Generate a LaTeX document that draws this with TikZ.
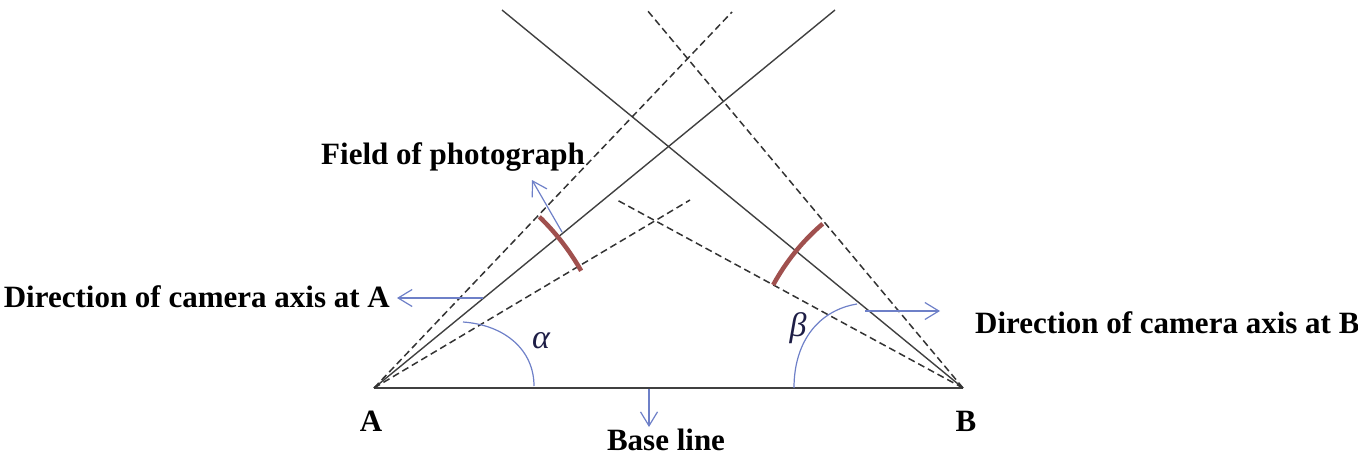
\documentclass[tikz,border=0pt]{standalone}
\usepackage{fontspec}
\setmainfont{Liberation Serif}
\usetikzlibrary{arrows.meta}
\definecolor{axblue}{RGB}{110,128,200}
\definecolor{arcred}{RGB}{160,80,78}
\definecolor{greekcol}{RGB}{30,30,70}
\tikzset{
  solidline/.style={line width=1.4pt, draw=black!75},
  dashline/.style={line width=1.5pt, draw=black!80, dash pattern=on 7pt off 4pt},
  bluearrow/.style={line width=1.2pt, draw=axblue, -{Straight Barb[length=14pt,width=17pt,line width=1.2pt]}},
  bluearc/.style={line width=1.2pt, draw=axblue},
  redarc/.style={line width=4.5pt, draw=arcred},
  lbl/.style={font=\fontsize{31}{36}\selectfont\bfseries, inner sep=0pt},
  greek/.style={font=\fontsize{34}{38}\selectfont\itshape, inner sep=0pt, text=greekcol}
}
\begin{document}
\begin{tikzpicture}[x=1pt,y=-1pt]
\useasboundingbox (0,0) rectangle (1358,455);
% base points
\coordinate (A) at (374,388);
\coordinate (B) at (963,388);
\coordinate (As) at (835,10);
\coordinate (Bs) at (502,10);
\coordinate (Adu) at (732,12);
\coordinate (Adl) at (690,200);
\coordinate (Bdu) at (647,10);
\coordinate (Bdl) at (617,200);
% lines
\draw[solidline, line width=1.8pt] (A) -- (B);
\draw[solidline] (A) -- (As);
\draw[solidline] (B) -- (Bs);
\draw[dashline] (A) -- (Adu);
\draw[dashline] (A) -- (Adl);
\draw[dashline] (B) -- (Bdu);
\draw[dashline] (B) -- (Bdl);
% red arcs (field of photograph)
\draw[redarc] ([shift={(46:238pt)}]A) arc[start angle=46, end angle=29.5, radius=238pt];
\draw[redarc] ([shift={(130.5:216pt)}]B) arc[start angle=130.5, end angle=151.5, radius=216pt];
% blue angle arcs
\coordinate (a1) at (463,322);
\coordinate (a2) at (534,386);
\draw[bluearc] (a1) .. controls (505,325) and (534,350) .. (a2);
\coordinate (b1) at (857,304);
\coordinate (b2) at (794,388);
\draw[bluearc] (b2) .. controls (794,340) and (820,310) .. (b1);
% labels
\node[lbl, anchor=center] (fop) at (453,157) {Field of photograph};
\node[lbl, anchor=east] (dirA) at (390,297) {Direction of camera axis at A};
\node[lbl, anchor=west] (dirB) at (975,323) {Direction of camera axis at B};
\node[lbl, anchor=base] (base) at (666,450) {Base line};
\node[lbl] (labA) at (371,421) {A};
\node[lbl] (labB) at (966,421) {B};
\node[greek] (alpha) at (541,341) {α};
\node[greek] (beta) at (798,328) {β};
% blue arrows
\coordinate (f0) at (562,232);
\coordinate (f1) at (532,180);
\draw[bluearrow] (f0) -- (f1);
\coordinate (dA0) at (483,298);
\coordinate (dA1) at (397,298);
\draw[bluearrow] (dA0) -- (dA1);
\coordinate (dB0) at (865,311);
\coordinate (dB1) at (940,311);
\draw[bluearrow] (dB0) -- (dB1);
\coordinate (bl0) at (649,389);
\coordinate (bl1) at (649,427);
\draw[bluearrow] (bl0) -- (bl1);
\end{tikzpicture}
\end{document}
